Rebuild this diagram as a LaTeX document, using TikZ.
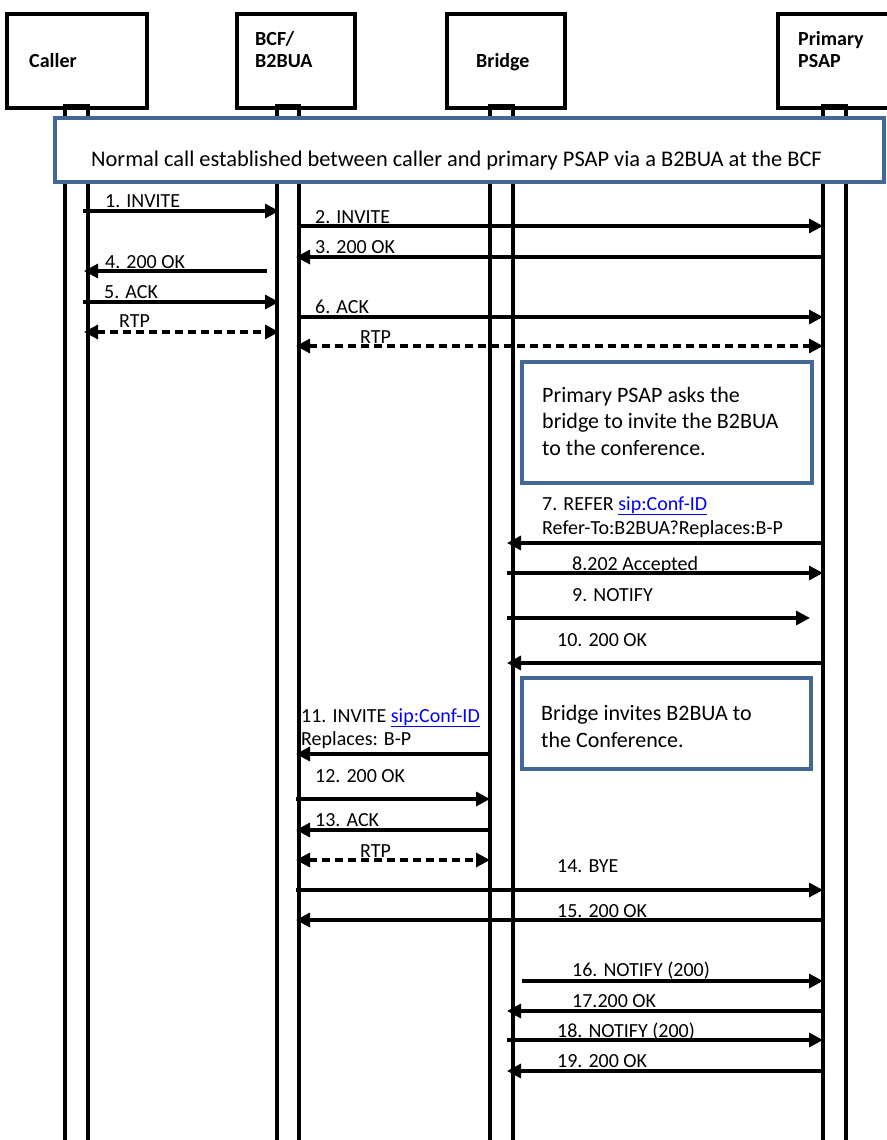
\documentclass[tikz,border=0pt]{standalone}
\usepackage{fontspec}
\setmainfont{Carlito}
\usetikzlibrary{arrows.meta}
\definecolor{boxblue}{RGB}{68,104,150}
\definecolor{linkblue}{RGB}{0,0,255}
\newcommand{\lnk}[1]{\textcolor{linkblue}{\underline{#1}}}
\tikzset{
  lbl/.style={anchor=base west, inner sep=0pt, font=\fontsize{20}{24}\selectfont},
  hdr/.style={anchor=base west, inner sep=0pt, align=left, font=\fontsize{20}{21}\selectfont\bfseries},
  notetxt/.style={anchor=base west, inner sep=0pt, align=left, font=\fontsize{22}{26.5}\selectfont},
  msg/.style={line width=3.2pt, -{Triangle[length=14pt,width=14pt]}},
  rtp/.style={line width=3.2pt, dash pattern=on 8pt off 5pt, {Triangle[length=14pt,width=14pt]}-{Triangle[length=14pt,width=14pt]}},
  actor/.style={draw, line width=3.2pt, fill=white, inner sep=0pt},
  lifeline/.style={draw, line width=3.2pt},
  note/.style={draw=boxblue, line width=3.2pt, fill=white, inner sep=0pt},
}
\begin{document}
\begin{tikzpicture}[x=1pt,y=-1pt]
\useasboundingbox (0,0) rectangle (886,1140);
% actor boxes
\node[actor, minimum width=140pt, minimum height=94pt] (caller) at (77,61) {};
\node[actor, minimum width=118pt, minimum height=94pt] (bcf) at (296,61) {};
\node[actor, minimum width=118pt, minimum height=94pt] (bridge) at (506,61) {};
\node[actor, minimum width=118pt, minimum height=94pt] (psap) at (837,61) {};
\node[hdr] (callerT) at (29,67) {Caller};
\node[hdr] (bcfT) at (255,67) {BCF/\\B2BUA};
\node[hdr] (bridgeT) at (476,67) {Bridge};
\node[hdr] (psapT) at (798,67) {Primary\\PSAP};
% lifelines
\draw[lifeline] (65,106) rectangle (88,1160);
\draw[lifeline] (277,106) rectangle (299,1160);
\draw[lifeline] (490,106) rectangle (513,1160);
\draw[lifeline] (823,106) rectangle (846,1160);
% header note
\node[note, minimum width=829pt, minimum height=64pt] (n0) at (469.5,150) {};
\node[anchor=base west, inner sep=0pt, font=\fontsize{22.4}{27}\selectfont] (n0T) at (91,166) {Normal call established between caller and primary PSAP via a B2BUA at the BCF};
% messages 1-6
\coordinate (m1a) at (83,211);  \coordinate (m1b) at (279,211);
\coordinate (m2a) at (297,226); \coordinate (m2b) at (823,226);
\coordinate (m3a) at (823,257); \coordinate (m3b) at (296,257);
\coordinate (m4a) at (267,271); \coordinate (m4b) at (84,271);
\coordinate (m5a) at (83,302);  \coordinate (m5b) at (279,302);
\coordinate (m6a) at (297,317); \coordinate (m6b) at (823,317);
\coordinate (r1a) at (84,332);  \coordinate (r1b) at (279,332);
\coordinate (r2a) at (296,346); \coordinate (r2b) at (823,346);
\draw[msg] (m1a) -- (m1b);
\draw[msg] (m2a) -- (m2b);
\draw[msg] (m3a) -- (m3b);
\draw[msg] (m4a) -- (m4b);
\draw[msg] (m5a) -- (m5b);
\draw[msg] (m6a) -- (m6b);
\draw[rtp] (r1a) -- (r1b);
\draw[rtp] (r2a) -- (r2b);
\node[lbl] (l1) at (105,207) {1. INVITE};
\node[lbl] (l2) at (315,223) {2. INVITE};
\node[lbl] (l3) at (315,253) {3. 200 OK};
\node[lbl] (l4) at (105,268) {4. 200 OK};
\node[lbl] (l5) at (104,298) {5. ACK};
\node[lbl] (l6) at (315,313) {6. ACK};
\node[lbl] (lr1) at (119,327) {RTP};
\node[lbl] (lr2) at (360,343) {RTP};
% note 2
\node[note, minimum width=290pt, minimum height=121pt] (n1) at (667,422.5) {};
\node[notetxt] (n1T) at (542,455) {Primary PSAP asks the\\bridge to invite the B2BUA\\to the conference.};
% messages 7-10
\coordinate (m7a) at (825,543);  \coordinate (m7b) at (507,543);
\coordinate (m8a) at (507,573);  \coordinate (m8b) at (823,573);
\coordinate (m9a) at (507,618);  \coordinate (m9b) at (810,618);
\coordinate (m10a) at (825,663); \coordinate (m10b) at (507,663);
\draw[msg] (m7a) -- (m7b);
\draw[msg] (m8a) -- (m8b);
\draw[msg] (m9a) -- (m9b);
\draw[msg] (m10a) -- (m10b);
\node[lbl] (l7) at (542,510) {7. REFER \lnk{sip:Conf-ID}};
\node[lbl] (l7b) at (542,534) {Refer-To:B2BUA?Replaces:B-P};
\node[lbl] (l8) at (572,570) {8.202 Accepted};
\node[lbl] (l9) at (572,601) {9. NOTIFY};
\node[lbl] (l10) at (557,646) {10. 200 OK};
% note 3
\node[note, minimum width=289pt, minimum height=91pt] (n2) at (666.5,723.5) {};
\node[notetxt] (n2T) at (541,747) {Bridge invites B2BUA to\\the Conference.};
% messages 11-15
\coordinate (m11a) at (490,754); \coordinate (m11b) at (296,754);
\coordinate (m12a) at (296,799); \coordinate (m12b) at (490,799);
\coordinate (m13a) at (490,830); \coordinate (m13b) at (296,830);
\coordinate (r3a) at (296,860);  \coordinate (r3b) at (490,860);
\coordinate (m14a) at (296,890); \coordinate (m14b) at (823,890);
\coordinate (m15a) at (825,920); \coordinate (m15b) at (296,920);
\draw[msg] (m11a) -- (m11b);
\draw[msg] (m12a) -- (m12b);
\draw[msg] (m13a) -- (m13b);
\draw[rtp] (r3a) -- (r3b);
\draw[msg] (m14a) -- (m14b);
\draw[msg] (m15a) -- (m15b);
\node[lbl] (l11) at (301,722) {11. INVITE \lnk{sip:Conf-ID}};
\node[lbl] (l11b) at (301,745) {Replaces: B-P};
\node[lbl] (l12) at (315,782) {12. 200 OK};
\node[lbl] (l13) at (315,826) {13. ACK};
\node[lbl] (lr3) at (360,857) {RTP};
\node[lbl] (l14) at (557,872) {14. BYE};
\node[lbl] (l15) at (557,917) {15. 200 OK};
% messages 16-19
\coordinate (m16a) at (522,981);  \coordinate (m16b) at (823,981);
\coordinate (m17a) at (825,1011); \coordinate (m17b) at (507,1011);
\coordinate (m18a) at (507,1040); \coordinate (m18b) at (823,1040);
\coordinate (m19a) at (825,1071); \coordinate (m19b) at (507,1071);
\draw[msg] (m16a) -- (m16b);
\draw[msg] (m17a) -- (m17b);
\draw[msg] (m18a) -- (m18b);
\draw[msg] (m19a) -- (m19b);
\node[lbl] (l16) at (572,976) {16. NOTIFY (200)};
\node[lbl] (l17) at (572,1007) {17.200 OK};
\node[lbl] (l18) at (557,1037) {18. NOTIFY (200)};
\node[lbl] (l19) at (557,1067) {19. 200 OK};
\end{tikzpicture}
\end{document}
